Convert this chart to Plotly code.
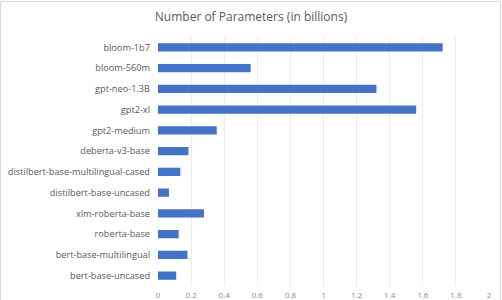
import plotly.graph_objects as go

models = ["bloom-1b7", "bloom-560m", "gpt-neo-1.3B", "gpt2-xl", "gpt2-medium",
          "deberta-v3-base", "distilbert-base-multilingual-cased",
          "distilbert-base-uncased", "xlm-roberta-base", "roberta-base",
          "bert-base-multilingual", "bert-base-uncased"]
params_b = [1.72, 0.56, 1.32, 1.56, 0.355, 0.184, 0.135, 0.066, 0.278, 0.125, 0.178, 0.11]
x_ticks = [0, 0.2, 0.4, 0.6, 0.8, 1, 1.2, 1.4, 1.6, 1.8, 2]
x_tick_text = ["0", "0.2", "0.4", "0.6", "0.8", "1", "1.2", "1.4", "1.6", "1.8", "2"]

fig = go.Figure(go.Bar(
    x=params_b, y=models, orientation="h",
    marker=dict(color="#4472C4", line=dict(width=0)),
    hoverinfo="skip",
))

fig.update_layout(
    width=502, height=300,
    margin=dict(l=158, r=13, t=37, b=14, autoexpand=False),
    paper_bgcolor="white", plot_bgcolor="white",
    font=dict(family="Open Sans, Liberation Sans, sans-serif", color="#595959"),
    title=dict(text="Number of Parameters (in billions)", x=0.5, xanchor="center",
               xref="container", y=1 - 17 / 300, yref="container", yanchor="middle",
               font=dict(size=12, color="#595959")),
    bargap=0.6,
    showlegend=False,
    shapes=[dict(type="rect", xref="paper", yref="paper", x0=-157.5 / 331, x1=(331 + 11.5) / 331,
                 y0=-1, y1=(249 + 35.5) / 249, line=dict(color="#D9D9D9", width=1))],
)
fig.update_xaxes(range=[0, 2], tickvals=x_ticks, ticktext=x_tick_text,
                 showgrid=True, gridcolor="#EBEBEB", gridwidth=1,
                 zeroline=False, showline=False, ticks="", automargin=False,
                 ticklabelstandoff=3,
                 tickfont=dict(size=8, color="#8C8C8C"))
fig.update_yaxes(categoryorder="array", categoryarray=models[::-1],
                 showgrid=False, zeroline=False, showline=False, ticks="",
                 automargin=False, ticklabelstandoff=7,
                 tickfont=dict(size=9.2, color="#595959"))

fig.write_html("out.html", config={"displayModeBar": False},
               post_script="document.body.style.margin='0';")
